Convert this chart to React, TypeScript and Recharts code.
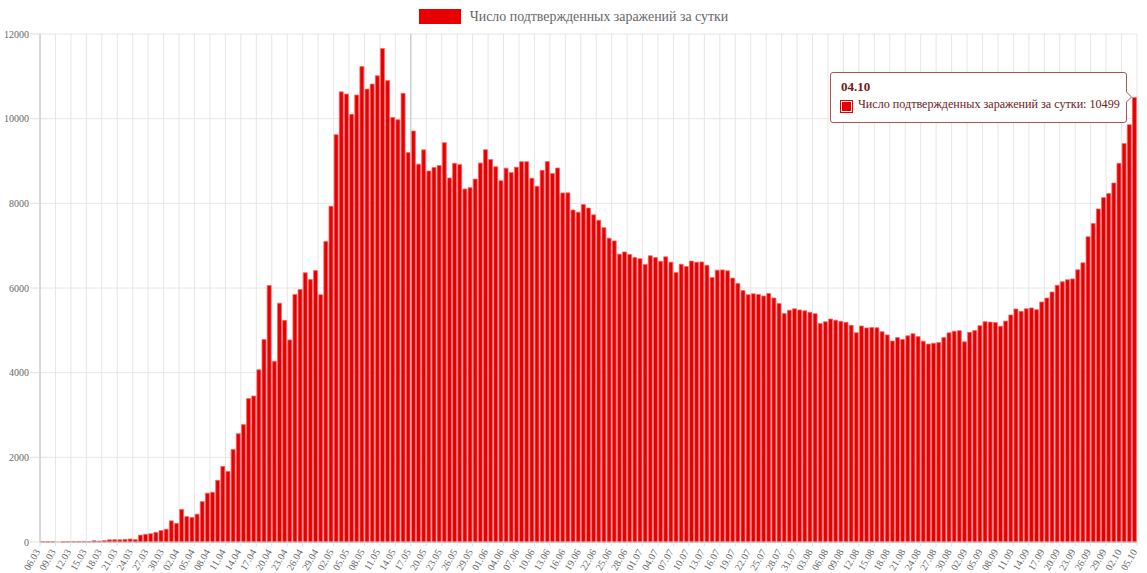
import React from 'react';
import { BarChart, Bar, XAxis, YAxis, CartesianGrid, Tooltip, Legend, ReferenceLine } from 'recharts';

const FONT = '"Liberation Serif", "Times New Roman", serif';
const BAR_FILL = '#e80000';
const BAR_STROKE = '#f46a6a';
const TT_BORDER = '#a65656';
const TT_TEXT = '#6e1a1a';

const seriesName = 'Число подтвержденных заражений за сутки';

// Daily values, per month (March starts on the 6th)
const march = [6, 4, 3, 0, 3, 8, 6, 11, 14, 4, 30, 21, 33, 52, 54, 53, 61, 71, 57, 163, 182, 196, 228, 270, 302, 501];
const april = [440, 771, 601, 582, 658, 954, 1154, 1175, 1459, 1786, 1667, 2186, 2558, 2774, 3388, 3448, 4070, 4785, 6060, 4268, 5642, 5236, 4774, 5849, 5966, 6361, 6198, 6411, 5841, 7099];
const may = [7933, 9623, 10633, 10581, 10102, 10559, 11231, 10699, 10817, 11012, 11656, 10899, 10028, 9974, 10598, 9200, 9709, 8926, 9263, 8764, 8849, 8894, 9434, 8599, 8946, 8915, 8338, 8371, 8572, 8952, 9268];
const june = [9035, 8863, 8536, 8831, 8726, 8855, 8984, 8985, 8595, 8404, 8779, 8987, 8706, 8835, 8246, 8248, 7843, 7790, 7972, 7889, 7728, 7600, 7425, 7176, 7113, 6800, 6852, 6791, 6719, 6693];
const july = [6556, 6760, 6718, 6632, 6736, 6611, 6368, 6562, 6509, 6635, 6611, 6615, 6537, 6248, 6422, 6428, 6406, 6234, 6109, 5940, 5842, 5862, 5848, 5811, 5871, 5765, 5635, 5395, 5475, 5509, 5482];
const august = [5462, 5427, 5394, 5159, 5204, 5267, 5241, 5212, 5189, 5118, 4945, 5102, 5057, 5065, 5061, 4969, 4892, 4748, 4828, 4785, 4870, 4921, 4852, 4744, 4676, 4696, 4711, 4829, 4941, 4980, 4993];
const september = [4729, 4952, 4995, 5110, 5205, 5195, 5185, 5099, 5218, 5363, 5504, 5449, 5509, 5529, 5488, 5670, 5762, 5905, 6065, 6148, 6196, 6215, 6431, 6595, 7212, 7523, 7867, 8135, 8232, 8481];
const october = [8945, 9412, 9859, 10499];

const monthBlocks = [
  { month: '03', firstDay: 6, values: march },
  { month: '04', firstDay: 1, values: april },
  { month: '05', firstDay: 1, values: may },
  { month: '06', firstDay: 1, values: june },
  { month: '07', firstDay: 1, values: july },
  { month: '08', firstDay: 1, values: august },
  { month: '09', firstDay: 1, values: september },
  { month: '10', firstDay: 1, values: october },
];

// Tick labels sit on day boundaries, every 3 days
const tickStep = 3;
const xTickLabels = [
  '06.03', '09.03', '12.03', '15.03', '18.03', '21.03', '24.03', '27.03', '30.03',
  '02.04', '05.04', '08.04', '11.04', '14.04', '17.04', '20.04', '23.04', '26.04', '29.04',
  '02.05', '05.05', '08.05', '11.05', '14.05', '17.05', '20.05', '23.05', '26.05', '29.05',
  '01.06', '04.06', '07.06', '10.06', '13.06', '16.06', '19.06', '22.06', '25.06', '28.06',
  '01.07', '04.07', '07.07', '10.07', '13.07', '16.07', '19.07', '22.07', '25.07', '28.07', '31.07',
  '03.08', '06.08', '09.08', '12.08', '15.08', '18.08', '21.08', '24.08', '27.08', '30.08',
  '02.09', '05.09', '08.09', '11.09', '14.09', '17.09', '20.09', '23.09', '26.09', '29.09',
  '02.10', '05.10',
];
const highlightedTickLabel = '17.05';
const yTicks = [0, 2000, 4000, 6000, 8000, 10000, 12000];

const data = monthBlocks
  .flatMap((b) =>
    b.values.map((v, i) => ({
      label: `${String(b.firstDay + i).padStart(2, '0')}.${b.month}`,
      value: v,
    }))
  )
  .map((d, i) => ({ ...d, pos: i + 0.5 }));

const xTickPositions = xTickLabels.map((_, k) => k * tickStep);
const axisMax = xTickPositions[xTickPositions.length - 1];
const highlightedPos = xTickLabels.indexOf(highlightedTickLabel) * tickStep;

const XTick = (props: any) => {
  const { x, y, payload } = props;
  const idx = Math.round(payload.value / tickStep);
  const ax = x - 2.5;
  const ay = y + 1;
  return (
    <g transform={`translate(${ax},${ay}) rotate(-60)`}>
      <text x={0} y={0} dy="0.35em" textAnchor="end" fontSize={10} fontFamily={FONT} fill="#666">
        {xTickLabels[idx]}
      </text>
    </g>
  );
};

const LegendContent = () => (
  <div
    style={{
      display: 'flex',
      justifyContent: 'center',
      alignItems: 'center',
      height: 33,
      width: '100%',
    }}
  >
    <span style={{ display: 'inline-block', width: 42, height: 15, background: BAR_FILL, marginRight: 9 }} />
    <span style={{ fontFamily: FONT, fontSize: 13.9, color: '#666', whiteSpace: 'nowrap' }}>{seriesName}</span>
  </div>
);

const TooltipContent = ({ active, payload, label }: any) => {
  if (!active || !payload || !payload.length) return null;
  const v = payload[0].value;
  return (
    <div
      style={{
        position: 'relative',
        width: 297,
        height: 51,
        boxSizing: 'border-box',
        border: `1px solid ${TT_BORDER}`,
        borderRadius: 3,
        background: '#fff',
        fontFamily: FONT,
        color: TT_TEXT,
      }}
    >
      <div style={{ position: 'absolute', left: 10, top: 6, fontSize: 13, fontWeight: 'bold', lineHeight: '15px', whiteSpace: 'nowrap' }}>
        {label}
      </div>
      <div
        style={{
          position: 'absolute',
          left: 9,
          top: 27,
          width: 13,
          height: 13,
          boxSizing: 'border-box',
          border: `1px solid ${BAR_FILL}`,
          padding: 1,
          background: '#fff',
        }}
      >
        <div style={{ width: '100%', height: '100%', background: BAR_FILL }} />
      </div>
      <div style={{ position: 'absolute', left: 27, top: 24, fontSize: 12.1, lineHeight: '15px', whiteSpace: 'nowrap' }}>
        {`${seriesName}: ${v}`}
      </div>
      <span
        style={{
          position: 'absolute',
          right: -6,
          top: 18,
          width: 0,
          height: 0,
          borderTop: '6px solid transparent',
          borderBottom: '6px solid transparent',
          borderLeft: `6px solid ${TT_BORDER}`,
        }}
      />
      <span
        style={{
          position: 'absolute',
          right: -5,
          top: 19,
          width: 0,
          height: 0,
          borderTop: '5px solid transparent',
          borderBottom: '5px solid transparent',
          borderLeft: '5px solid #fff',
        }}
      />
    </div>
  );
};

export default function App() {
  return (
    <div style={{ position: 'absolute', left: 0, top: 0, width: 1147, height: 573, background: '#fff' }}>
      <BarChart
        width={1147}
        height={573}
        data={data}
        margin={{ top: 34, right: 10, bottom: 0, left: 0 }}
        barCategoryGap="11%"
      >
        <CartesianGrid xAxisId="num" stroke="#e6e6e6" />
        <XAxis dataKey="label" hide height={0} />
        <XAxis
          xAxisId="num"
          type="number"
          dataKey="pos"
          domain={[0, axisMax]}
          ticks={xTickPositions}
          interval={0}
          allowDataOverflow
          height={31}
          tickSize={4}
          tickMargin={3}
          tickLine={{ stroke: '#e0e0e0' }}
          axisLine={{ stroke: '#bdbdbd' }}
          tick={<XTick />}
        />
        <YAxis
          domain={[0, 12000]}
          ticks={yTicks}
          interval={0}
          width={40}
          tickSize={10}
          tickMargin={1}
          tick={{ fontSize: 10, fontFamily: FONT, fill: '#666' }}
          tickLine={{ stroke: '#e0e0e0' }}
          axisLine={{ stroke: '#bdbdbd' }}
        />
        <ReferenceLine xAxisId="num" x={highlightedPos} stroke="#c2c2c2" />
        <Legend
          layout="horizontal"
          verticalAlign="middle"
          align="center"
          wrapperStyle={{ top: 0, left: 0, width: 1147, height: 33 }}
          content={<LegendContent />}
        />
        <Bar
          dataKey="value"
          name={seriesName}
          fill={BAR_FILL}
          stroke={BAR_STROKE}
          strokeWidth={0.8}
          isAnimationActive={false}
        />
        <Tooltip
          active
          defaultIndex={data.length - 1}
          position={{ x: 830, y: 72 }}
          cursor={false}
          isAnimationActive={false}
          content={<TooltipContent />}
        />
      </BarChart>
    </div>
  );
}
